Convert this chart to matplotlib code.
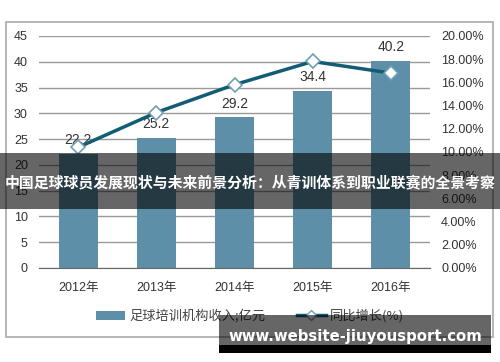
import matplotlib.pyplot as plt
from matplotlib.patches import Rectangle, Patch
from matplotlib.lines import Line2D
from matplotlib.ticker import FuncFormatter

years = ["2012年", "2013年", "2014年", "2015年", "2016年"]
income = [22.2, 25.2, 29.2, 34.4, 40.2]
growth = [10.4, 13.4, 15.8, 17.8, 16.8]

bar_color = "#5d90a8"
line_color = "#135d74"
txt_color = "#333333"

plt.rcParams["font.family"] = ["Liberation Sans", "Noto Sans CJK SC", "DejaVu Sans"]

fig = plt.figure(figsize=(5, 3.62), dpi=100)

# outer frame of the chart
fig.patches.append(Rectangle((0.012, 0.069), 0.974, 0.870, transform=fig.transFigure,
                             fill=False, edgecolor="#aaaaaa", linewidth=1.2))

ax1 = fig.add_axes([0.078, 0.2597, 0.782, 0.641])
x = list(range(len(years)))
ax1.bar(x, income, width=0.5, color=bar_color, zorder=2)
ax1.set_xlim(-0.5, 4.5)
ax1.set_ylim(0, 45)
ax1.set_yticks(range(0, 46, 5))
ax1.grid(axis="y", color="#999999", linewidth=1, zorder=0)
ax1.set_xticks(x)
ax1.set_xticklabels(years, family=["Liberation Sans", "Noto Sans CJK SC"])
for s in ["top", "left", "right"]:
    ax1.spines[s].set_visible(False)
ax1.spines["bottom"].set_color("#666666")
ax1.tick_params(axis="both", length=0, labelsize=9, colors=txt_color)
ax1.tick_params(axis="y", pad=8)
ax1.tick_params(axis="x", pad=10)
for xi, v in zip(x, income):
    ax1.annotate(f"{v}", (xi, v), xytext=(0, 10), textcoords="offset points",
                 ha="center", va="center", fontsize=10, color=txt_color)

ax2 = ax1.twinx()
ax2.plot(x, growth, color=line_color, linewidth=2.5, marker="D", markersize=7,
         markerfacecolor="white", markeredgecolor="#6f9fb5", markeredgewidth=1.2)
ax2.set_ylim(0, 20)
ax2.set_yticks(range(0, 21, 2))
ax2.yaxis.set_major_formatter(FuncFormatter(lambda v, p: f"{v:.2f}%"))
for s in ["top", "left", "right", "bottom"]:
    ax2.spines[s].set_visible(False)
ax2.tick_params(axis="y", length=0, labelsize=9, colors=txt_color, pad=8)

handles = [Patch(facecolor=bar_color),
           Line2D([0], [0], color=line_color, linewidth=2.5, marker="D", markersize=5,
                  markerfacecolor="white", markeredgecolor="#6f9fb5")]
fig.legend(handles, ["足球培训机构收入;亿元", "同比增长(%)"], loc="center",
           bbox_to_anchor=(0.5, 0.127), ncol=2, frameon=False,
           prop={"family": ["Noto Sans CJK SC", "DejaVu Sans"], "size": 9.5},
           handlelength=2.2, handleheight=0.7, columnspacing=2.4, handletextpad=0.3,
           labelcolor="#444444")

# title overlay band
fig.patches.append(Rectangle((0, 0.423), 1, 0.155, transform=fig.transFigure,
                             facecolor="black", alpha=0.6, zorder=10))
fig.text(0.5, 0.495, "中国足球球员发展现状与未来前景分析：从青训体系到职业联赛的全景考察",
         ha="center", va="center", color="white", fontsize=10.7, fontweight="bold",
         family=["Noto Sans CJK SC", "DejaVu Sans"], zorder=11)

# watermark
fig.patches.append(Rectangle((0.438, 0.047), 0.544, 0.083, transform=fig.transFigure,
                             facecolor="black", alpha=0.6, zorder=10))
fig.patches.append(Rectangle((0.438, 0.025), 0.544, 0.023, transform=fig.transFigure,
                             facecolor="black", zorder=10))
fig.text(0.71, 0.07, "www.website-jiuyousport.com", ha="center", va="center",
         color="white", fontsize=10.7, fontweight="bold", family="DejaVu Sans", zorder=11)

fig.savefig("out.png", dpi=100)
